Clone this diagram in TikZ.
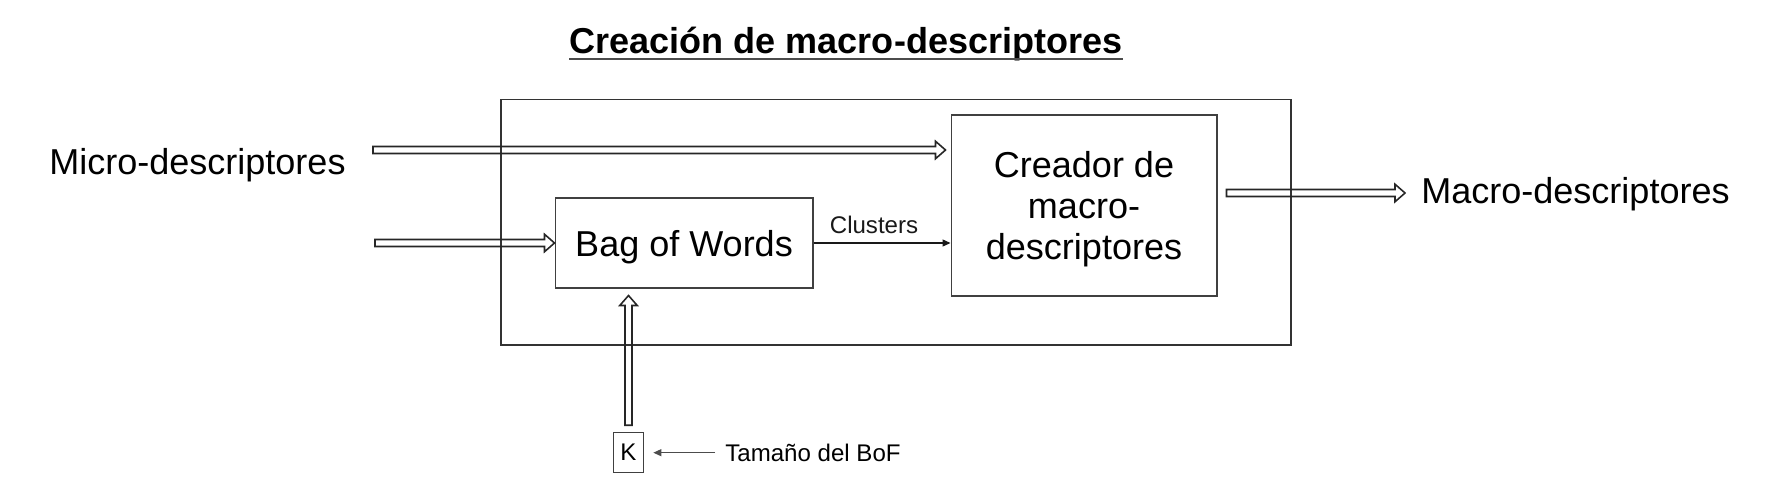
\documentclass[tikz,border=0pt]{standalone}
\usepackage{fontspec}
\setmainfont{Liberation Sans}
\usetikzlibrary{calc,arrows.meta}
\newcommand{\bigtxt}{\fontsize{20.5}{23.4}\selectfont}
\newcommand{\smalltxt}{\fontsize{13.7}{16}\selectfont}
\tikzset{
	block/.style={draw=black!75, line width=0.6pt, inner sep=0pt, text depth=0pt, align=center, font=\bigtxt},
	label/.style={inner sep=0pt, font=\smalltxt},
	thin arrow/.style={-{Triangle[length=0.16cm,width=0.14cm]}, line width=0.75pt},
	hollow/.style={draw=black!85, line width=0.9pt, line join=miter,
		to path={
			($(\tikztostart)!0.07cm!90:(\tikztotarget)$)
			-- ($(\tikztotarget)!0.2cm!(\tikztostart)!0.07cm!90:(\tikztotarget)$)
			-- ($(\tikztotarget)!0.2cm!(\tikztostart)!0.175cm!90:(\tikztotarget)$)
			-- (\tikztotarget)
			-- ($(\tikztotarget)!0.2cm!(\tikztostart)!0.175cm!-90:(\tikztotarget)$)
			-- ($(\tikztotarget)!0.2cm!(\tikztostart)!0.07cm!-90:(\tikztotarget)$)
			-- ($(\tikztostart)!0.07cm!-90:(\tikztotarget)$)
			-- cycle}}
}

\begin{document}
\begin{tikzpicture}[x=0.02cm, y=-0.02cm]
		\useasboundingbox (0,0) rectangle (1773,493);
		%%%%% TITLE %%%%%
		\node[inner sep=0pt, anchor=base, font=\bigtxt\bfseries] (title) at (846,54) {Creación de macro-descriptores};
		\draw[line width=1.1pt, draw=black!70] ([yshift=-0.1cm]title.base west) -- ([yshift=-0.1cm]title.base east);
		
		%%%%% BLOCKS %%%%%
		\node[draw=black!80, line width=0.95pt, minimum width=15.8cm, minimum height=4.91cm] (frame) at (896,222.25) {};
		\node[block, minimum width=5.16cm, minimum height=1.8cm] (bow) at (684,243) {Bag of Words};
		\node[block, minimum width=5.32cm, minimum height=3.62cm] (creador) at (1084,205.5) {Creador de\\macro-\\descriptores};
		\node[block, font=\smalltxt, line width=0.55pt, minimum width=0.614cm, minimum height=0.8cm] (k) at (628.5,452.7) {K};
		
		%%%%% TEXTS %%%%%
		\node[inner sep=0pt, anchor=base west, font=\bigtxt] (micro) at (49,174) {Micro-descriptores};
		\node[inner sep=0pt, anchor=base west, font=\bigtxt] (macro) at (1421,203) {Macro-descriptores};
		\node[label, anchor=base west] (tamano) at (725,461) {Tamaño del BoF};
		
		%%%%% ARROWS %%%%%
		\coordinate (in1) at (373,150);
		\coordinate (in2) at (375,243);
		\draw[hollow] (in1) to ([xshift=-0.1cm]in1 -| creador.west);
		\draw[hollow] (in2) to (bow.west);
		\draw[hollow] ([yshift=0.14cm]k.north) to ([yshift=-0.14cm]k.north |- bow.south);
		\draw[hollow] ([xshift=0.18cm]creador.east |- 0,193) to ([xshift=-0.32cm]macro.west |- 0,193);
		
		\draw[thin arrow, black!90] (bow.east) -- (creador.west |- bow.east)
			node[label, midway, above=0.18cm, xshift=-0.16cm] (clusters) {Clusters};
		\draw[thin arrow, black!70, line width=0.6pt] ([xshift=-0.2cm]tamano.west |- k.east) -- ([xshift=0.18cm]k.east);
\end{tikzpicture}
\end{document}
